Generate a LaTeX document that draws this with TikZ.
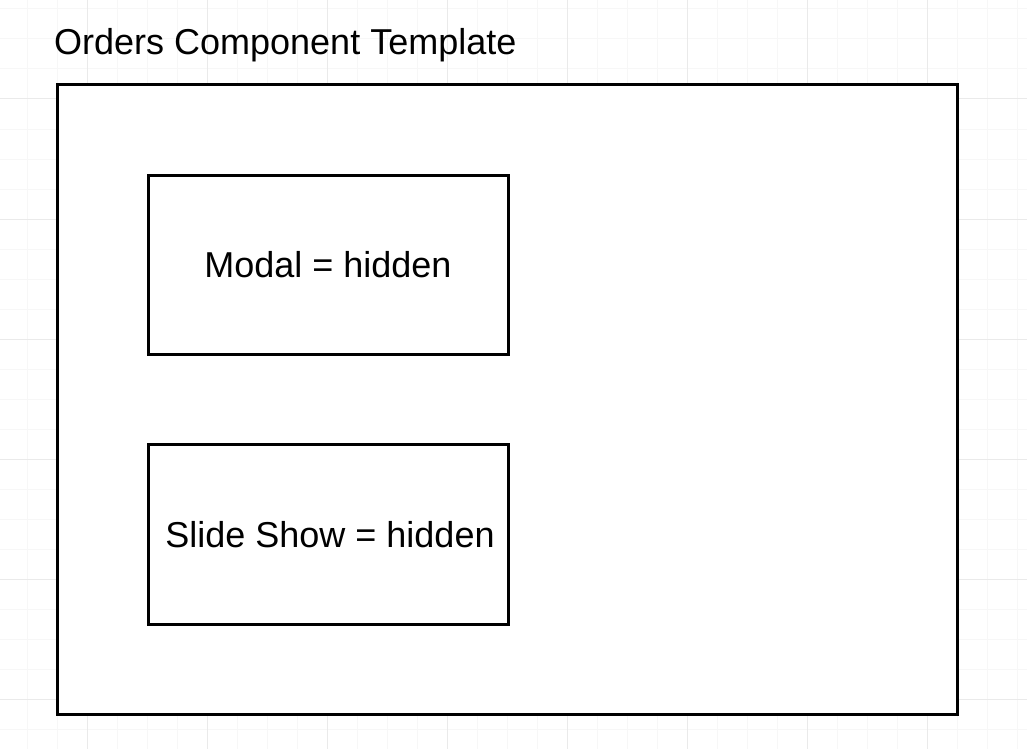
\documentclass[tikz,border=0pt]{standalone}
\usepackage{fontspec}
\setmainfont{Liberation Sans}
\definecolor{gridminor}{HTML}{F7F7F7}
\definecolor{gridmajor}{HTML}{EAEAEA}
\begin{document}
\begin{tikzpicture}[x=1pt,y=-1pt,
  frame/.style={draw=black, line width=3pt, rectangle, inner sep=0pt},
  label/.style={font=\fontsize{36}{40}\selectfont, inner sep=0pt}]
  % canvas
  \useasboundingbox (0,0) rectangle (1027,749);
  \fill[white] (0,0) rectangle (1027,749);
  % background grid: light lines every 30, darker every 120
  \foreach \x in {27,57,...,1017} \draw[gridminor, line width=1pt] (\x,0) -- (\x,749);
  \foreach \y in {9,39,...,739} \draw[gridminor, line width=1pt] (0,\y) -- (1027,\y);
  \foreach \x in {87,207,...,1000} \draw[gridmajor, line width=1pt] (\x,0) -- (\x,749);
  \foreach \y in {99,219,...,740} \draw[gridmajor, line width=1pt] (0,\y) -- (1027,\y);
  % component container
  \node[frame, fill=white, minimum width=900, minimum height=629.5] (container) at (507.85,399.65) {};
  \node[label, anchor=base west] (title) at (54,55) {Orders Component Template};
  % state boxes
  \node[frame, fill=white, minimum width=360, minimum height=179.5, label] (modal) at (328,265) {Modal = hidden};
  \node[frame, fill=white, minimum width=360, minimum height=179.5, label] (slideshow) at (328,534.6) {\hspace{4pt}Slide Show = hidden};
\end{tikzpicture}
\end{document}
